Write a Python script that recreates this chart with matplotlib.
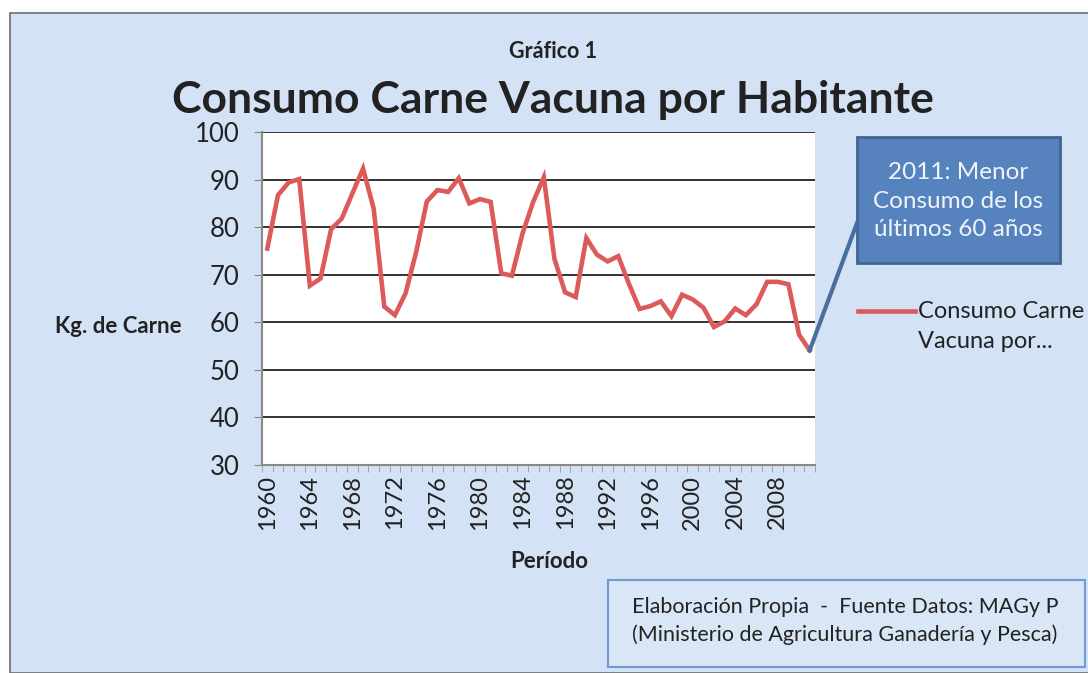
import matplotlib.pyplot as plt
from matplotlib.patches import Rectangle

years = list(range(1960, 2012))
consumo = [75.5, 86.7, 89.4, 90.1, 67.7, 69.2, 79.6, 81.8, 87.1, 92.3,
           83.9, 63.3, 61.5, 66.1, 74.8, 85.4, 87.8, 87.4, 90.3, 85.0,
           85.9, 85.3, 70.3, 69.8, 78.7, 85.3, 90.5, 73.3, 66.3, 65.3,
           77.7, 74.2, 72.8, 73.9, 68.1, 62.8, 63.4, 64.4, 61.3, 65.8,
           64.8, 63.1, 59.0, 60.2, 62.9, 61.5, 63.8, 68.5, 68.5, 68.0,
           57.4, 54.1]
tick_years = list(range(1960, 2012, 4))
y_ticks = [30, 40, 50, 60, 70, 80, 90, 100]

plt.rcParams['font.family'] = ['Lato', 'DejaVu Sans']

W, H = 1088, 673
fig = plt.figure(figsize=(W / 100, H / 100), dpi=100, facecolor='white')

# blue page background with thin frame
fig.patches.append(Rectangle((10 / W, 0), 1.0, 1 - 13 / H, transform=fig.transFigure,
                             facecolor='#d3e2f4', edgecolor='#6e6e6e', linewidth=1.2,
                             zorder=-10))

ax = fig.add_axes([262 / W, 1 - 465 / H, (815 - 262) / W, (465 - 132) / H])
ax.set_facecolor('white')
ax.plot(years, consumo, color='#dc5a5a', linewidth=3.3, solid_joinstyle='miter')

ax.set_xlim(1959.5, 2011.5)
ax.set_ylim(30, 100)
ax.set_yticks(y_ticks)
ax.set_xticks(tick_years)
ax.set_xticklabels([str(y) for y in tick_years], rotation=90, fontsize=17, color='#222222')
ax.set_xticks([y + 0.5 for y in range(1959, 2012)], minor=True)
ax.tick_params(axis='x', which='major', length=0, pad=7)
ax.tick_params(axis='x', which='minor', length=5, color='#999999', direction='out')
ax.tick_params(axis='y', length=6, color='#888888', labelsize=18.5, labelcolor='#222222', pad=10)
ax.grid(axis='y', color='#222222', linewidth=1.3)
ax.set_axisbelow(True)
for s in ['top', 'right']:
    ax.spines[s].set_visible(False)
for s in ['left', 'bottom']:
    ax.spines[s].set_color('#8a8a8a')
    ax.spines[s].set_linewidth(1.5)

ax.set_ylabel('Kg. de Carne', rotation=0, fontsize=16, fontweight='bold', color='#222222',
              ha='center', va='center')
ax.yaxis.set_label_coords(-0.259, 0.417)
ax.set_xlabel('Período', fontsize=16, fontweight='bold', color='#222222', va='center')
ax.xaxis.set_label_coords(0.52, -0.29)

fig.text(553 / W, 1 - 52 / H, 'Gráfico 1', ha='center', va='center', fontsize=15.5,
         fontweight='bold', color='#222222')
fig.text(553 / W, 1 - 100 / H, 'Consumo Carne Vacuna por Habitante', ha='center', va='center',
         fontsize=32, fontweight='bold', color='#222222')

# legend (clipped at the right edge like the original)
fig.add_artist(plt.Line2D([858 / W, 915 / W], [1 - 311 / H, 1 - 311 / H], color='#dc5a5a',
                          linewidth=3.3, transform=fig.transFigure))
fig.text(918 / W, 1 - 311 / H, 'Consumo Carne', ha='left', va='center', fontsize=17,
         color='#222222')
fig.text(918 / W, 1 - 341 / H, 'Vacuna por...', ha='left', va='center', fontsize=17,
         color='#222222')

# callout box pointing at the 2011 value
box_l, box_r, box_t, box_b = 857, 1060, 137, 263
fig.patches.append(Rectangle((box_l / W, 1 - box_b / H), (box_r - box_l) / W, (box_b - box_t) / H,
                             transform=fig.transFigure, facecolor='#5683bd',
                             edgecolor='#3f6592', linewidth=2))
x_end, y_end = ax.transData.transform((years[-1], consumo[-1]))
fig.add_artist(plt.Line2D([box_l / W, x_end / W], [1 - 223 / H, y_end / H], color='#4a6f9e',
                          linewidth=3, transform=fig.transFigure))
fig.text((box_l + box_r) / 2 / W, 1 - 201 / H, '2011: Menor\nConsumo de los\núltimos 60 años',
         ha='center', va='center', fontsize=17.5, color='#f0f4fa', linespacing=1.42)

# source box
fig.patches.append(Rectangle((608 / W, 1 - 667 / H), (1085 - 608) / W, (667 - 580) / H,
                             transform=fig.transFigure, facecolor='#d9e6f6',
                             edgecolor='#6f9ad2', linewidth=1.5))
fig.text(845 / W, 1 - 607 / H, 'Elaboración Propia  -  Fuente Datos: MAGy P', ha='center',
         va='center', fontsize=15.5, color='#222222')
fig.text(845 / W, 1 - 635 / H, '(Ministerio de Agricultura Ganadería y Pesca)', ha='center',
         va='center', fontsize=15.5, color='#222222')

fig.savefig('out.png', dpi=100)
